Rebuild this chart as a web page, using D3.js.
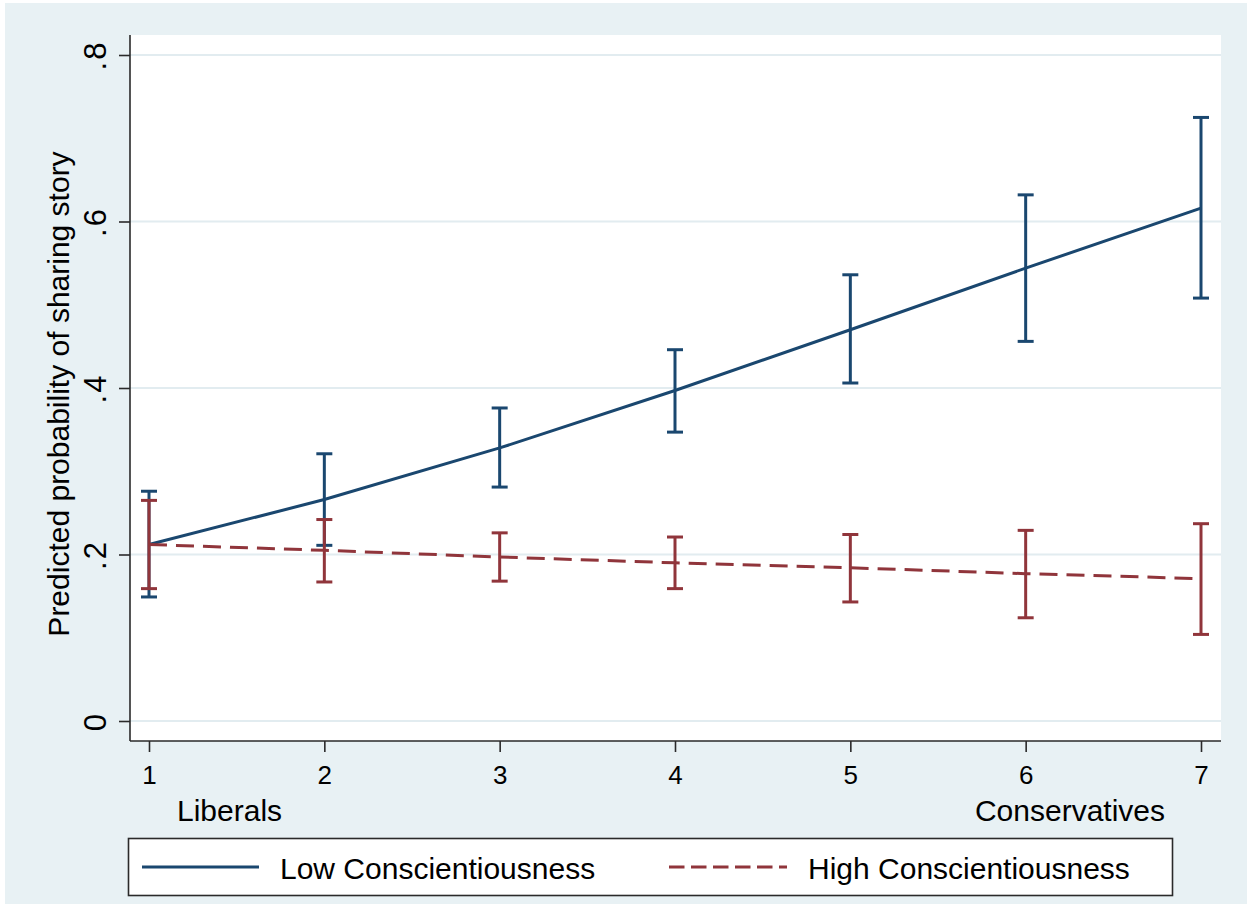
<!DOCTYPE html>
<html>
<head>
<meta charset="utf-8">
<script src="https://cdn.jsdelivr.net/npm/d3@7"></script>
<style>
  html, body { margin: 0; padding: 0; background: #ffffff; }
  svg { display: block; font-family: "Liberation Sans", Arial, Helvetica, sans-serif; }
</style>
</head>
<body>
<svg id="chart" width="1251" height="907"></svg>
<script>
// Ideology scale (1 = most liberal, 7 = most conservative)
const ideology = [1, 2, 3, 4, 5, 6, 7];

// Predicted probability of sharing, with 95% confidence bounds
const lowPred  = [0.212, 0.266, 0.328, 0.397, 0.470, 0.544, 0.616];
const lowLo    = [0.149, 0.211, 0.281, 0.347, 0.406, 0.456, 0.508];
const lowHi    = [0.276, 0.321, 0.376, 0.446, 0.536, 0.632, 0.725];

const highPred = [0.212, 0.205, 0.197, 0.190, 0.184, 0.177, 0.171];
const highLo   = [0.159, 0.167, 0.168, 0.159, 0.143, 0.124, 0.104];
const highHi   = [0.265, 0.242, 0.226, 0.221, 0.224, 0.229, 0.237];

const yTicks = [0, 0.2, 0.4, 0.6, 0.8];
const xTicks = [1, 2, 3, 4, 5, 6, 7];
const endLabels = ["Liberals", "Conservatives"];
const seriesNames = ["Low Conscientiousness", "High Conscientiousness"];
const yTitle = "Predicted probability of sharing story";

const BLUE = "#1a476f";
const RED = "#90353b";
const BG = "#e8f1f4";
const GRID = "#e2ecf0";
const AXIS = "#2a2a2a";

const svg = d3.select("#chart");

// outer graph region
svg.append("rect").attr("x", 5).attr("y", 3).attr("width", 1242).attr("height", 901).attr("fill", BG);

const plot = { left: 130, right: 1221, top: 35, bottom: 741 };

const x = d3.scaleLinear().domain([1, 7]).range([149, 1201]);
const y = d3.scaleLinear().domain([0, 0.8]).range([721, 55]);

// plot region
svg.append("rect")
  .attr("x", plot.left).attr("y", plot.top)
  .attr("width", plot.right - plot.left).attr("height", plot.bottom - plot.top)
  .attr("fill", "#ffffff");

// horizontal grid lines
svg.append("g").selectAll("line").data(yTicks).join("line")
  .attr("x1", plot.left).attr("x2", plot.right)
  .attr("y1", d => y(d)).attr("y2", d => y(d))
  .attr("stroke", GRID).attr("stroke-width", 2);

// y axis
const fmtY = d => d === 0 ? "0" : d3.format(".1f")(d).replace(/^0/, "");
const yAxis = svg.append("g")
  .attr("transform", `translate(${plot.left},0)`)
  .call(d3.axisLeft(y).tickValues(yTicks).tickFormat(fmtY).tickSize(11).tickSizeOuter(0));
yAxis.select(".domain").remove();
yAxis.selectAll(".tick line").attr("stroke", AXIS).attr("stroke-width", 1.6);
yAxis.selectAll(".tick text")
  .attr("fill", "#000").attr("font-size", 31).attr("font-family", null)
  .attr("letter-spacing", 2)
  .attr("text-anchor", "middle")
  .attr("x", null).attr("dy", null)
  .attr("transform", "translate(-24,0) rotate(-90)");
svg.append("line")
  .attr("x1", plot.left).attr("x2", plot.left)
  .attr("y1", plot.top).attr("y2", plot.bottom)
  .attr("stroke", AXIS).attr("stroke-width", 1.6);

// x axis
const xAxis = svg.append("g")
  .attr("transform", `translate(0,${plot.bottom})`)
  .call(d3.axisBottom(x).tickValues(xTicks).tickFormat(d3.format("d")).tickSize(11).tickSizeOuter(0));
xAxis.select(".domain").remove();
xAxis.selectAll(".tick line").attr("stroke", AXIS).attr("stroke-width", 1.6);
xAxis.selectAll(".tick text")
  .attr("fill", "#000").attr("font-size", 26).attr("font-family", null)
  .attr("y", 43).attr("dy", null);
svg.append("line")
  .attr("x1", plot.left).attr("x2", plot.right)
  .attr("y1", plot.bottom).attr("y2", plot.bottom)
  .attr("stroke", AXIS).attr("stroke-width", 1.6);

// end-of-scale labels
svg.append("text").attr("x", 177).attr("y", 821).attr("font-size", 30)
  .attr("text-anchor", "start").text(endLabels[0]);
svg.append("text").attr("x", 1165).attr("y", 821).attr("font-size", 30)
  .attr("text-anchor", "end").text(endLabels[1]);

// y axis title
svg.append("text")
  .attr("transform", "translate(69,394) rotate(-90)")
  .attr("text-anchor", "middle").attr("font-size", 30)
  .text(yTitle);

// confidence interval caps
function drawCaps(lo, hi, color) {
  const g = svg.append("g").attr("stroke", color).attr("stroke-width", 3).attr("fill", "none");
  const rows = ideology.map((v, i) => ({ v, lo: lo[i], hi: hi[i] }));
  g.selectAll("line.stem").data(rows).join("line").attr("class", "stem")
    .attr("x1", d => x(d.v)).attr("x2", d => x(d.v))
    .attr("y1", d => y(d.lo)).attr("y2", d => y(d.hi));
  g.selectAll("line.capHi").data(rows).join("line").attr("class", "capHi")
    .attr("x1", d => x(d.v) - 8).attr("x2", d => x(d.v) + 8)
    .attr("y1", d => y(d.hi)).attr("y2", d => y(d.hi));
  g.selectAll("line.capLo").data(rows).join("line").attr("class", "capLo")
    .attr("x1", d => x(d.v) - 8).attr("x2", d => x(d.v) + 8)
    .attr("y1", d => y(d.lo)).attr("y2", d => y(d.lo));
}

const line = d3.line().x(d => x(d[0])).y(d => y(d[1]));

drawCaps(lowLo, lowHi, BLUE);
svg.append("path")
  .datum(ideology.map((v, i) => [v, lowPred[i]]))
  .attr("d", line).attr("fill", "none")
  .attr("stroke", BLUE).attr("stroke-width", 3);

drawCaps(highLo, highHi, RED);
svg.append("path")
  .datum(ideology.map((v, i) => [v, highPred[i]]))
  .attr("d", line).attr("fill", "none")
  .attr("stroke", RED).attr("stroke-width", 3)
  .attr("stroke-dasharray", "18,9");

// legend
const legend = svg.append("g");
legend.append("rect")
  .attr("x", 128.5).attr("y", 838.5).attr("width", 1044).attr("height", 57)
  .attr("fill", "#ffffff").attr("stroke", AXIS).attr("stroke-width", 1.6);
legend.append("line")
  .attr("x1", 142).attr("x2", 259).attr("y1", 867).attr("y2", 867)
  .attr("stroke", BLUE).attr("stroke-width", 3);
legend.append("text").attr("x", 280).attr("y", 879).attr("font-size", 30).text(seriesNames[0]);
legend.append("line")
  .attr("x1", 669).attr("x2", 787).attr("y1", 867).attr("y2", 867)
  .attr("stroke", RED).attr("stroke-width", 3)
  .attr("stroke-dasharray", "15.5,6.5");
legend.append("text").attr("x", 808).attr("y", 879).attr("font-size", 30).text(seriesNames[1]);
</script>
</body>
</html>
